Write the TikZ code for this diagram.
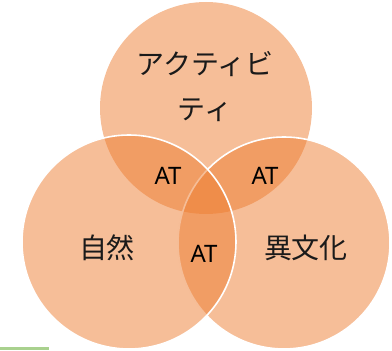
\documentclass[tikz,border=0pt]{standalone}
\usepackage{fontspec}
\newfontfamily\jpfont{Noto Sans CJK JP}
\newfontfamily\atfont{Noto Sans}
\definecolor{accent}{HTML}{ED7D31}
\definecolor{barGreen}{HTML}{A9D18E}
\definecolor{txt}{HTML}{1A1A1A}
\begin{document}
\begin{tikzpicture}[x=1pt,y=1pt]
            \tikzstyle{every node}+=[inner sep=0pt]
            \tikzstyle{blob}=[fill=accent, fill opacity=0.5]
            \tikzstyle{rim}=[draw=white, line width=1.6pt]
            \tikzstyle{word}=[text=txt, font=\jpfont\fontsize{28}{45}\selectfont, align=center]
            \tikzstyle{tag}=[text=black, font=\atfont\fontsize{24}{26}\selectfont]
                \useasboundingbox (0,0) rectangle (392,351);
                % circles: top, right, left
                \fill [blob] (206,243) circle (106);
                \draw [blob, rim] (284,108) circle (106);
                \draw [blob, rim] (129,109) circle (107);
                % labels
                \node [word] (act) at (205,264) {アクティビ\\ティ};
                \node [word] (nature) at (107,103) {自然};
                \node [word] (culture) at (306,103) {異文化};
                \node [tag] (atL) at (168,175) {AT};
                \node [tag] (atR) at (265,175) {AT};
                \node [tag] (atB) at (204,97) {AT};
                % green bar
                \fill [barGreen] (0,0.5) rectangle (49,3.8);
            \end{tikzpicture}
\end{document}
